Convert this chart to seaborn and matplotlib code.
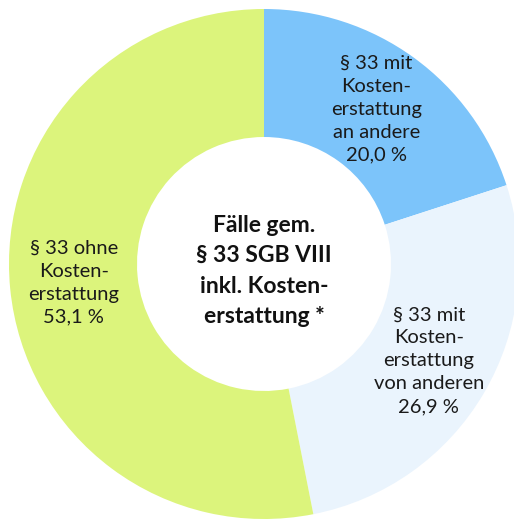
import matplotlib
matplotlib.use("Agg")
import matplotlib.pyplot as plt
import seaborn as sns

# Shares of cases under § 33 SGB VIII (percent), clockwise from 12 o'clock
categories = [
    "§ 33 mit\nKosten-\nerstattung\nan andere",
    "§ 33 mit\nKosten-\nerstattung\nvon anderen",
    "§ 33 ohne\nKosten-\nerstattung",
]
shares = [20.0, 26.9, 53.1]
colors = ["#7cc4fa", "#eaf4fd", "#dcf47c"]
center_title = "Fälle gem.\n§ 33 SGB VIII\ninkl. Kosten-\nerstattung *"

sns.set_theme(style="white")
plt.rcParams["font.family"] = ["Lato", "DejaVu Sans"]

W, H = 514, 519
fig = plt.figure(figsize=(W / 100, H / 100), dpi=100)
ax = fig.add_axes([0, 0, 1, 1])

cx, cy = 264, H - 264
R_out, R_in = 255, 127

labels_iter = iter(categories)


def fmt(pct):
    name = next(labels_iter)
    return f"{name}\n{pct:.1f} %".replace(".", ",")


wedges, texts, autotexts = ax.pie(
    shares,
    colors=colors,
    startangle=90,
    counterclock=False,
    radius=R_out,
    center=(cx, cy),
    autopct=fmt,
    pctdistance=(R_out + R_in) / 2 / R_out,
    wedgeprops=dict(width=R_out - R_in, linewidth=0),
    textprops=dict(fontsize=14.5, color="#1a1a1a", linespacing=1.42),
)
for t in autotexts:
    t.set_ha("center")
    t.set_va("center")

ax.text(cx, cy - 7, center_title, ha="center", va="center",
        fontsize=16.5, fontweight="bold", color="#111111", linespacing=1.55)

ax.set_xlim(0, W)
ax.set_ylim(0, H)
ax.set_aspect("equal")
ax.axis("off")

fig.savefig("out.png", dpi=100, facecolor="white")
